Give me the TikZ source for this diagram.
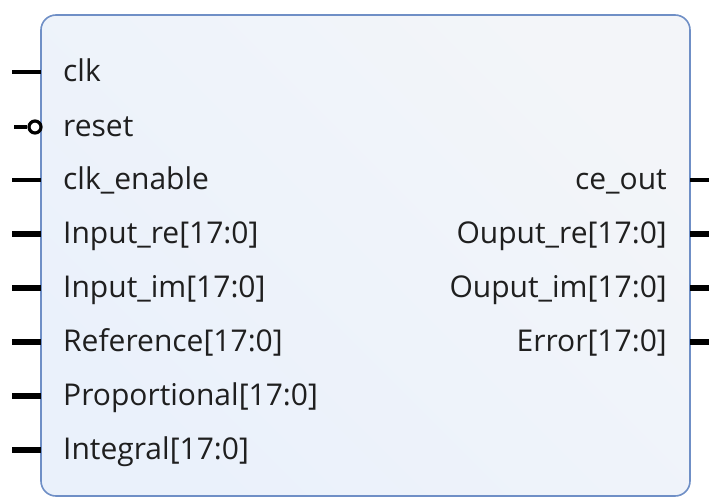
\documentclass[tikz,border=0pt]{standalone}
\usepackage{fontspec}
\setmainfont{Open Sans}
\begin{document}
\begin{tikzpicture}[x=1pt,y=-1pt,
  blk/.style={draw=blockedge,line width=1.6pt,rounded corners=15pt,left color=blockfillA,right color=blockfillB,shading angle=135},
  wire/.style={line width=3.2pt,draw=black},
  bus/.style={line width=6pt,draw=black},
  lbl/.style={font=\fontsize{30}{33}\selectfont,text=black!88,inner sep=0pt},
  bubble/.style={circle,draw=black,line width=3.2pt,fill=white,minimum size=12pt,inner sep=0pt}]
\definecolor{blockedge}{HTML}{6F8FC6}
\definecolor{blockfillA}{HTML}{EAF1FB}
\definecolor{blockfillB}{HTML}{F3F5F9}
\useasboundingbox (0,0) rectangle (709,498);
\path[blk] (41,15) rectangle (690,496);
% left pins
\foreach \n/\y in {clk/72,ena/180}{
  \coordinate (L\n) at (12,\y); \coordinate (B\n) at (41,\y);
  \draw[wire] (L\n) -- (B\n);}
\coordinate (Lrst) at (14,127);
\node[bubble] (rb) at (35,127) {};
\draw[wire] (Lrst) -- (rb.west);
\foreach \n/\y in {ire/234,iim/288,ref/342,pro/396,int/450}{
  \coordinate (L\n) at (12,\y); \coordinate (B\n) at (41,\y);
  \draw[bus] (L\n) -- (B\n);}
% right pins
\coordinate (Rce) at (690,180); \coordinate (Ece) at (709,180);
\draw[wire] (Rce) -- (Ece);
\foreach \n/\y in {ore/234,oim/288,err/342}{
  \coordinate (R\n) at (690,\y); \coordinate (E\n) at (709,\y);
  \draw[bus] (R\n) -- (E\n);}
% labels
\node[lbl,anchor=base west] (t1) at (63,81) {clk};
\node[lbl,anchor=base west] (t2) at (63,136) {reset};
\node[lbl,anchor=base west] (t3) at (63,189) {clk\_enable};
\node[lbl,anchor=base west] (t4) at (63,243) {Input\_re[17:0]};
\node[lbl,anchor=base west] (t5) at (63,297) {Input\_im[17:0]};
\node[lbl,anchor=base west] (t6) at (63,351) {Reference[17:0]};
\node[lbl,anchor=base west] (t7) at (63,405) {Proportional[17:0]};
\node[lbl,anchor=base west] (t8) at (63,459) {Integral[17:0]};
\node[lbl,anchor=base east] (r1) at (667,189) {ce\_out};
\node[lbl,anchor=base east] (r2) at (667,243) {Ouput\_re[17:0]};
\node[lbl,anchor=base east] (r3) at (667,297) {Ouput\_im[17:0]};
\node[lbl,anchor=base east] (r4) at (667,351) {Error[17:0]};
\end{tikzpicture}
\end{document}
